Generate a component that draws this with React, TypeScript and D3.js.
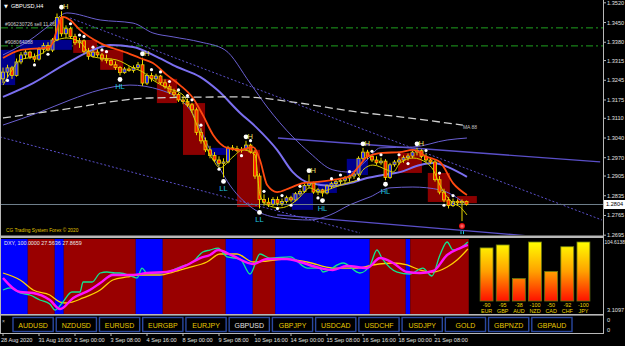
import React from "react";
import * as d3 from "d3";

// ---------- price data (H4 bars, index 0 = 28 Aug 2020 08:00) ----------
const opens = [
  1.3250, 1.3274, 1.3289, 1.3262, 1.3310, 1.3335, 1.3345, 1.3328, 1.3320, 1.3355,
  1.3368, 1.3352, 1.3388, 1.3468, 1.3410, 1.3428, 1.3400, 1.3378, 1.3385, 1.3348,
  1.3330, 1.3345, 1.3335, 1.3320, 1.3315, 1.3300, 1.3290, 1.3272, 1.3285, 1.3280,
  1.3290, 1.3300, 1.3235, 1.3262, 1.3250, 1.3260, 1.3236, 1.3222, 1.3203, 1.3195,
  1.3175, 1.3170, 1.3158, 1.3140, 1.3060, 1.3030, 1.2998, 1.2978, 1.2962, 1.2950,
  1.2955, 1.3005, 1.3002, 1.2996, 1.3000, 1.3015, 1.2990, 1.2905, 1.2822, 1.2812,
  1.2805, 1.2822, 1.2808, 1.2815, 1.2828, 1.2820, 1.2842, 1.2850, 1.2872, 1.2880,
  1.2848, 1.2856, 1.2845, 1.2870, 1.2878, 1.2885, 1.2890, 1.2898, 1.2905, 1.2912,
  1.2968, 1.2990, 1.2975, 1.2962, 1.2952, 1.2958, 1.2900, 1.2945, 1.2955, 1.2962,
  1.2970, 1.2976, 1.2990, 1.2995, 1.2975, 1.2962, 1.2955, 1.2892, 1.2848, 1.2820,
  1.2800, 1.2815, 1.2810, 1.2815,
];
const highs = [
  1.3290, 1.3300, 1.3296, 1.3322, 1.3345, 1.3355, 1.3350, 1.3340, 1.3362, 1.3378,
  1.3380, 1.3395, 1.3482, 1.3490, 1.3440, 1.3435, 1.3410, 1.3395, 1.3390, 1.3360,
  1.3352, 1.3355, 1.3342, 1.3336, 1.3322, 1.3312, 1.3296, 1.3292, 1.3295, 1.3298,
  1.3310, 1.3325, 1.3270, 1.3272, 1.3268, 1.3264, 1.3248, 1.3230, 1.3215, 1.3200,
  1.3188, 1.3180, 1.3165, 1.3148, 1.3075, 1.3042, 1.3012, 1.2990, 1.2975, 1.2968,
  1.3012, 1.3015, 1.3012, 1.3008, 1.3030, 1.3020, 1.2998, 1.2915, 1.2840, 1.2828,
  1.2830, 1.2832, 1.2825, 1.2835, 1.2835, 1.2848, 1.2858, 1.2878, 1.2910, 1.2885,
  1.2862, 1.2860, 1.2875, 1.2885, 1.2892, 1.2898, 1.2905, 1.2910, 1.2918, 1.2975,
  1.3005, 1.2998, 1.2982, 1.2975, 1.2970, 1.2965, 1.2952, 1.2962, 1.2970, 1.2978,
  1.2985, 1.2995, 1.3005, 1.3000, 1.2985, 1.2972, 1.2962, 1.2905, 1.2860, 1.2830,
  1.2825, 1.2822, 1.2822, 1.2818,
];
const lows = [
  1.3235, 1.3255, 1.3250, 1.3258, 1.3302, 1.3322, 1.3320, 1.3310, 1.3315, 1.3340,
  1.3348, 1.3345, 1.3384, 1.3400, 1.3395, 1.3392, 1.3370, 1.3360, 1.3340, 1.3318,
  1.3325, 1.3328, 1.3312, 1.3305, 1.3296, 1.3282, 1.3262, 1.3268, 1.3275, 1.3272,
  1.3282, 1.3225, 1.3228, 1.3240, 1.3240, 1.3228, 1.3215, 1.3196, 1.3185, 1.3168,
  1.3160, 1.3150, 1.3130, 1.3050, 1.3020, 1.2990, 1.2968, 1.2955, 1.2940, 1.2900,
  1.2950, 1.2995, 1.2990, 1.2988, 1.2995, 1.2985, 1.2895, 1.2790, 1.2800, 1.2795,
  1.2798, 1.2800, 1.2798, 1.2808, 1.2812, 1.2815, 1.2835, 1.2845, 1.2862, 1.2842,
  1.2838, 1.2832, 1.2840, 1.2860, 1.2868, 1.2875, 1.2880, 1.2885, 1.2895, 1.2905,
  1.2960, 1.2965, 1.2955, 1.2945, 1.2945, 1.2890, 1.2895, 1.2938, 1.2945, 1.2952,
  1.2960, 1.2968, 1.2978, 1.2968, 1.2955, 1.2948, 1.2885, 1.2840, 1.2812, 1.2790,
  1.2795, 1.2802, 1.2745, 1.2800,
];
const closes = [
  1.3274, 1.3289, 1.3262, 1.3310, 1.3335, 1.3345, 1.3328, 1.3320, 1.3355, 1.3368,
  1.3352, 1.3388, 1.3468, 1.3410, 1.3428, 1.3400, 1.3378, 1.3385, 1.3348, 1.3330,
  1.3345, 1.3335, 1.3320, 1.3315, 1.3300, 1.3290, 1.3272, 1.3285, 1.3280, 1.3290,
  1.3300, 1.3235, 1.3262, 1.3250, 1.3260, 1.3236, 1.3222, 1.3203, 1.3195, 1.3175,
  1.3170, 1.3158, 1.3140, 1.3060, 1.3030, 1.2998, 1.2978, 1.2962, 1.2950, 1.2955,
  1.3005, 1.3002, 1.2996, 1.3000, 1.3015, 1.2990, 1.2905, 1.2822, 1.2812, 1.2805,
  1.2822, 1.2808, 1.2815, 1.2828, 1.2820, 1.2842, 1.2850, 1.2872, 1.2880, 1.2848,
  1.2856, 1.2845, 1.2870, 1.2878, 1.2885, 1.2890, 1.2898, 1.2905, 1.2912, 1.2968,
  1.2990, 1.2975, 1.2962, 1.2952, 1.2958, 1.2900, 1.2945, 1.2955, 1.2962, 1.2970,
  1.2976, 1.2990, 1.2995, 1.2975, 1.2962, 1.2955, 1.2892, 1.2848, 1.2820, 1.2800,
  1.2815, 1.2810, 1.2815, 1.2804,
];

// ---------- overlays: [barIndex, price] ----------
const emaLine = [
  [0, 1.3324], [3.8, 1.3352], [10.4, 1.3363], [13.3, 1.347], [14.9, 1.3459], [17.1, 1.3424],
  [21.6, 1.3377], [27.6, 1.3342], [30.4, 1.3324], [33.3, 1.3306], [36.4, 1.3264], [39.3, 1.3228],
  [42.2, 1.3182], [44.4, 1.3122], [46.7, 1.3051], [49.8, 1.3005], [52.7, 1.2998], [55.6, 1.3008],
  [57.1, 1.2962], [58.7, 1.2873], [60.9, 1.2848], [63.8, 1.2863], [66.7, 1.288], [69.8, 1.2884],
  [73.3, 1.2891], [77.1, 1.2905], [79.3, 1.2944], [80.9, 1.2973], [84.4, 1.2987], [88.2, 1.299],
  [91.1, 1.2998], [94.2, 1.2973], [97.1, 1.2955], [100, 1.288], [103.1, 1.2838],
];
const fastLine = [
  [0, 1.3228], [1.6, 1.3271], [3.8, 1.3317], [6.7, 1.3328], [8.9, 1.3342], [12, 1.3388],
  [14.2, 1.3395], [17.1, 1.3381], [20, 1.3328], [25.3, 1.3317], [28.9, 1.3289], [31.1, 1.3274],
  [33.3, 1.3246], [36.4, 1.3218], [40, 1.3193], [42.2, 1.3122], [44.4, 1.3033], [46.7, 1.2962],
  [48.2, 1.2934], [51.1, 1.2973], [53.3, 1.2998], [56, 1.298], [57.1, 1.2838], [58.7, 1.2802],
  [61.6, 1.2792], [64.4, 1.2809], [66, 1.2831], [68.2, 1.2863], [70.4, 1.2848], [73.3, 1.2863],
  [76.4, 1.288], [78.7, 1.2891], [80, 1.2927], [82.2, 1.2944], [85.3, 1.2927], [86.7, 1.2919],
  [88.2, 1.2951], [91.1, 1.2969], [94.2, 1.2951], [95.6, 1.2927], [97.1, 1.2873], [100, 1.2809],
  [101.6, 1.2795], [103.1, 1.2767],
];
const bandUpper = [
  [0, 1.3335], [6, 1.3388], [10.4, 1.3441], [14.2, 1.3484], [21.6, 1.3459], [28.9, 1.3448],
  [33.3, 1.3413], [37.8, 1.3399], [43.8, 1.3381], [49.3, 1.3353], [54.9, 1.3235], [58.7, 1.315],
  [64.4, 1.3044], [68.2, 1.2987], [73.3, 1.2927], [77.1, 1.2919], [80.9, 1.2962], [83.8, 1.3005],
  [91.1, 1.3008], [98.7, 1.3033], [103.1, 1.304],
];
const bandMiddle = [
  [0, 1.3186], [6.7, 1.3235], [14.2, 1.3306], [20, 1.3353], [23.8, 1.337], [28.9, 1.3363],
  [34.2, 1.3328], [38.7, 1.3292], [43.8, 1.3257], [47.6, 1.3211], [52.7, 1.3129], [56.4, 1.3076],
  [60.9, 1.2998], [64.4, 1.2919], [68.2, 1.288], [73.3, 1.287], [77.1, 1.288], [80.9, 1.2898],
  [84.4, 1.2909], [88.2, 1.2919], [92.7, 1.2944], [95.6, 1.2951], [99.3, 1.2934], [103.1, 1.2902],
];
const bandLower = [
  [0, 1.3086], [8.2, 1.3132], [14.9, 1.3175], [21.6, 1.3211], [28.2, 1.3228], [34.9, 1.3211],
  [41.6, 1.314], [46, 1.2998], [50.4, 1.2873], [56, 1.2785], [61.6, 1.2756], [68.2, 1.2749],
  [72.7, 1.2767], [77.1, 1.2803], [81.6, 1.2831], [86, 1.2863], [91.1, 1.2866], [97.1, 1.2856],
  [103.1, 1.2803],
];
const slowMA = [
  [0, 1.3111], [12.7, 1.314], [32.7, 1.3182], [52.7, 1.3186], [66, 1.3164], [77.1, 1.3136],
  [88.2, 1.3115], [102.2, 1.3086],
];
// straight channel lines [i0, p0, i1, p1]
const dottedLines = [
  [14.9, 1.3466, 133.1, 1.2749],
  [-0.7, 1.3044, 79.3, 1.2703],
];
const solidLines = [
  [61.1, 1.304, 132.7, 1.2955],
  [60.9, 1.2767, 117.1, 1.2692],
];
const orderLevels = [1.3431, 1.3367];
const orderTexts = ["#906230726 sell 11.06", "#908064088"];

// zones [i0, i1, top, bottom]
const blueZones = [
  [-0.7, 2.7, 1.3353, 1.3228],
  [3.8, 15.3, 1.3388, 1.3353],
  [46, 50, 1.3005, 1.298],
  [64.2, 68.9, 1.2845, 1.2785],
  [70, 74.2, 1.2884, 1.2845],
  [76.4, 81.1, 1.2966, 1.2909],
];
const redZones = [
  [15.6, 20.9, 1.3388, 1.3342],
  [21.6, 26.7, 1.3353, 1.3282],
  [34.2, 38.7, 1.325, 1.3164],
  [40, 44.9, 1.3164, 1.298],
  [52, 57.1, 1.2998, 1.2795],
  [87.8, 93.1, 1.2987, 1.2916],
  [94.4, 99.3, 1.2916, 1.2813],
  [100.9, 105.3, 1.2834, 1.2809],
];
const dotsAbove = [15, 17, 18, 20, 22, 23, 33, 35, 37, 39, 41, 42, 44, 55, 58, 62, 66, 73, 75, 77, 82, 84, 88, 94, 97, 100];
const dotsBelow = [1, 7, 10, 48, 53, 61, 64, 70, 79, 90, 98];
const highMarks = [13, 31, 54, 68, 80, 92];
const lowMarks: [number, string][] = [[26, "HL"], [49, "LL"], [57, "LL"], [71, "HL"], [85, "HL"]];
const signalBar = 102;

const priceTicks = ["1.3520", "1.3450", "1.3380", "1.3315", "1.3245", "1.3175", "1.3110", "1.3040", "1.2970", "1.2905", "1.2835", "1.2765", "1.2695"];
const timeTickBars = [0, 8, 16, 24, 32, 40, 48, 56, 64, 72, 80, 88, 96];
const timeLabels = ["28 Aug 2020", "31 Aug 16:00", "2 Sep 00:00", "3 Sep 08:00", "4 Sep 16:00", "8 Sep 00:00", "9 Sep 08:00", "10 Sep 16:00", "14 Sep 00:00", "15 Sep 08:00", "16 Sep 16:00", "18 Sep 00:00", "21 Sep 08:00"];

// ---------- indicator window ----------
const indMin = 3.1097;
const indMax = 104.6138;
const indBands: [number, number, string][] = [
  [0, 5, "b"], [6, 11, "r"], [12, 13, "b"], [14, 29, "r"], [30, 35, "b"], [36, 49, "r"],
  [50, 55, "b"], [56, 60, "r"], [61, 81, "b"], [82, 89, "r"], [90, 90, "b"], [91, 103, "r"],
];
const greenSeries = [
  [0, 35.5], [1.6, 38.4], [3.8, 31.3], [6, 28.5], [8.2, 21.4], [10.4, 15.8], [11.6, 7.3], [13.3, 18.6],
  [15.3, 32.7], [17.1, 32.7], [17.8, 46.8], [19.8, 46.8], [21.6, 59.5], [23.1, 60.9], [24.9, 59.5],
  [26, 59.5], [28.9, 53.9], [29.8, 52.5], [30.9, 66.5], [32, 59.5], [34.2, 59.5], [36.4, 60.9],
  [39.3, 67.9], [42.2, 75], [44.4, 89.1], [46, 91.9], [47.8, 94.7], [49.8, 82.1], [52.7, 79.2],
  [54.9, 58.1], [57.1, 86.3], [59.3, 80.6], [63.8, 82.1], [67.6, 66.5], [70.4, 66.5], [71.1, 60.9],
  [75.6, 73.6], [79.3, 59.5], [81.6, 70.8], [83.1, 91.9], [84.2, 80.6], [87.6, 60.9], [90.4, 58.1],
  [93.3, 66.5], [95.3, 55.3], [97.1, 84.9], [98.7, 103.2], [100, 91.9], [101.6, 94.7], [103.3, 103.2],
];
const magentaSeries = [
  [0, 52.5], [3.8, 32.7], [6.7, 31.3], [10.4, 21.4], [12.7, 8.7], [15.6, 24.3], [19.3, 35.5],
  [21.6, 45.4], [24.4, 56.7], [28.9, 56.7], [32, 59.5], [36.4, 60.9], [40.9, 70.8], [43.8, 80.6],
  [46, 84.9], [47.8, 91.9], [51.1, 83.5], [55.6, 72.2], [58.7, 79.2], [63.1, 79.2], [66, 75],
  [70.4, 66.5], [73.3, 63.7], [76.4, 69.4], [80.9, 66.5], [83.8, 80.6], [86.7, 73.6], [89.8, 60.9],
  [92.7, 59.5], [95.6, 62.3], [98.7, 84.9], [101.6, 94.7], [103.3, 99],
];
const yellowSeries = [
  [0, 59.5], [3.8, 49.6], [6.7, 35.5], [10.4, 28.5], [12.7, 18.6], [14.2, 17.2], [17.8, 24.3],
  [21.6, 35.5], [24.4, 49.6], [27.6, 53.9], [30.4, 56.7], [34.9, 56.7], [37.8, 60.9], [40.9, 66.5],
  [45.3, 75], [48.2, 86.3], [52, 86.3], [55.6, 75], [58.7, 76.4], [63.1, 79.2], [67.6, 75],
  [73.3, 66.5], [78.7, 66.5], [82.2, 70.8], [86.7, 73.6], [89.8, 70.8], [92.7, 63.7], [95.6, 60.9],
  [98.7, 67.9], [100.9, 77.8], [103.3, 93.3],
];
const currencies = ["EUR", "GBP", "AUD", "NZD", "CAD", "CHF", "JPY"];
const strengths = [-90, -95, -38, -100, -50, -92, -100];

const buttons = ["AUDUSD", "NZDUSD", "EURUSD", "EURGBP", "EURJPY", "GBPUSD", "GBPJPY", "USDCAD", "USDCHF", "USDJPY", "GOLD", "GBPNZD", "GBPAUD"];
const activeButton = "GBPUSD";

export default function App() {
  const W = 625;
  const H = 346;
  const font = "'Liberation Sans', Arial, Helvetica, sans-serif";
  const x = d3.scaleLinear().domain([0, 103]).range([3, 466.5]);
  const y = d3.scaleLinear().domain([1.2695, 1.352]).range([235.2, 2.8]);
  const yi = d3.scaleLinear().domain([indMin, indMax]).range([313, 241]);
  const step = x(1) - x(0);
  const pLine = d3.line<number[]>().x((d) => x(d[0])).y((d) => y(d[1])).curve(d3.curveMonotoneX);
  const sLine = d3.line<number[]>().x((d) => x(d[0])).y((d) => y(d[1]));
  const iLine = d3.line<number[]>().x((d) => x(d[0])).y((d) => yi(d[1])).curve(d3.curveMonotoneX);
  const bx = d3.scaleBand<string>().domain(currencies).range([478.5, 591.5]).paddingInner(0.2).paddingOuter(0.1);
  const by = d3.scaleLinear().domain([0, 100]).range([301, 242]);
  const btn = d3.scaleBand<string>().domain(buttons).range([13, 572]).paddingInner(0.07);
  const bodyW = 3;
  const last = closes[closes.length - 1];

  return (
    <svg width={W} height={H} style={{ position: "absolute", left: 0, top: 0, display: "block", background: "#000" }}>
      <defs>
        <clipPath id="mainClip">
          <rect x={1} y={0} width={602} height={235} />
        </clipPath>
        <clipPath id="indClip">
          <rect x={1} y={239} width={602} height={75} />
        </clipPath>
        <linearGradient id="barGrad" gradientUnits="userSpaceOnUse" x1={0} y1={242} x2={0} y2={301}>
          <stop offset="0" stopColor="#ffff00" />
          <stop offset="0.5" stopColor="#ffa000" />
          <stop offset="1" stopColor="#ff1000" />
        </linearGradient>
        <radialGradient id="redDot">
          <stop offset="0" stopColor="#ff8080" />
          <stop offset="1" stopColor="#e00000" />
        </radialGradient>
      </defs>
      <rect x={0} y={0} width={W} height={H} fill="#000" />

      {/* ---------------- main window ---------------- */}
      <g clipPath="url(#mainClip)">
        {orderLevels.map((p, k) => (
          <line key={"ol" + k} x1={1} x2={603} y1={y(p)} y2={y(p)} stroke="#1fa01f" strokeWidth={1} strokeDasharray="7,3,2,3" />
        ))}
        {blueZones.map((z, k) => (
          <rect key={"bz" + k} x={x(z[0])} y={y(z[2])} width={x(z[1]) - x(z[0])} height={y(z[3]) - y(z[2])} fill="#00008b" />
        ))}
        {redZones.map((z, k) => (
          <rect key={"rz" + k} x={x(z[0])} y={y(z[2])} width={x(z[1]) - x(z[0])} height={y(z[3]) - y(z[2])} fill="#8b0000" />
        ))}
        {dottedLines.map((l, k) => (
          <path key={"dl" + k} d={sLine([[l[0], l[1]], [l[2], l[3]]]) || ""} stroke="#5a4fc8" strokeWidth={1} strokeDasharray="2,2" fill="none" />
        ))}
        {solidLines.map((l, k) => (
          <path key={"sl" + k} d={sLine([[l[0], l[1]], [l[2], l[3]]]) || ""} stroke="#5a4fc8" strokeWidth={1.3} fill="none" />
        ))}
        <path d={pLine(bandUpper) || ""} stroke="#6a5fd0" strokeWidth={1} fill="none" />
        <path d={pLine(bandLower) || ""} stroke="#6a5fd0" strokeWidth={1} fill="none" />
        <path d={pLine(bandMiddle) || ""} stroke="#7b6ff0" strokeWidth={2} fill="none" />
        <path d={pLine(slowMA) || ""} stroke="#d0d0d0" strokeWidth={1.3} strokeDasharray="8,4" fill="none" />
        <line x1={1} x2={603} y1={y(last)} y2={y(last)} stroke="#70808c" strokeWidth={1} />

        {closes.map((c, i) => {
          const o = opens[i];
          const up = c >= o;
          const top = y(Math.max(o, c));
          const bot = y(Math.min(o, c));
          const cx = x(i);
          return (
            <g key={"c" + i}>
              <line x1={cx} x2={cx} y1={y(highs[i])} y2={y(lows[i])} stroke="#e8d800" strokeWidth={1} />
              <rect x={cx - bodyW / 2} y={top} width={bodyW} height={Math.max(1, bot - top)} fill={up ? "#2020ff" : "#ff2000"} stroke="#e8d800" strokeWidth={0.8} />
            </g>
          );
        })}

        <path d={pLine(fastLine) || ""} stroke="#d8d000" strokeWidth={1} fill="none" />
        <path d={pLine(emaLine) || ""} stroke="#ff4a10" strokeWidth={1.8} fill="none" />

        {dotsAbove.map((i) => (
          <circle key={"da" + i} cx={x(i)} cy={y(highs[i]) - 3} r={1.6} fill="#ffffff" />
        ))}
        {dotsBelow.map((i) => (
          <circle key={"db" + i} cx={x(i)} cy={y(lows[i]) + 3} r={1.6} fill="#ffffff" />
        ))}
        {highMarks.map((i) => (
          <g key={"hm" + i}>
            <circle cx={x(i)} cy={y(highs[i]) - 4} r={2.4} fill="#ffffff" />
            <text x={x(i) + 1.5} y={y(highs[i]) - 2} fontFamily={font} fontSize={7.5} fill="#f0e060">H</text>
          </g>
        ))}
        {lowMarks.map(([i, t]) => (
          <g key={"lm" + i}>
            <circle cx={x(i)} cy={y(lows[i]) + 4} r={2.4} fill="#ffffff" />
            <text x={x(i)} y={y(lows[i]) + 14} textAnchor="middle" fontFamily={font} fontSize={7.5} fill="#20c8e0">{t}</text>
          </g>
        ))}
        <circle cx={x(signalBar)} cy={y(lows[signalBar]) + 5} r={3} fill="url(#redDot)" />
        <line x1={x(signalBar) - 1} x2={x(signalBar) - 1} y1={y(lows[signalBar]) + 10} y2={y(lows[signalBar]) + 13} stroke="#20c8e0" />
        <line x1={x(signalBar) + 1.5} x2={x(signalBar) + 1.5} y1={y(lows[signalBar]) + 10} y2={y(lows[signalBar]) + 13} stroke="#20c8e0" />

        <text x={x(102.2)} y={y(slowMA[slowMA.length - 1][1]) + 4} fontFamily={font} fontSize={5} fill="#c0c0c0">MA 88</text>
        {orderLevels.map((p, k) => (
          <text key={"ot" + k} x={5} y={y(p) - 2} fontFamily={font} fontSize={5} fill="#d0d0d0">{orderTexts[k]}</text>
        ))}
        <text x={4} y={8} fontFamily="'DejaVu Sans', sans-serif" fontSize={5} fill="#ffffff">▼</text>
        <text x={11} y={8} fontFamily={font} fontSize={5.6} fill="#ffffff">GBPUSD,H4</text>
        <text x={6} y={232} fontFamily={font} fontSize={4.8} fill="#e0c800">CG Trading System Forex © 2020</text>
      </g>

      {/* separators */}
      <rect x={0} y={235.5} width={603} height={2.5} fill="#b8b8b8" />
      <rect x={0} y={314} width={603} height={1.6} fill="#b8b8b8" />
      <line x1={0.5} x2={0.5} y1={0} y2={333} stroke="#b8b8b8" strokeWidth={1} />
      <line x1={603.5} x2={603.5} y1={0} y2={334} stroke="#b8b8b8" strokeWidth={1} />
      <line x1={0} x2={604} y1={333.5} y2={333.5} stroke="#b8b8b8" strokeWidth={1} />

      {/* ---------------- indicator window ---------------- */}
      <g clipPath="url(#indClip)">
        {indBands.map(([a, b, c], k) => (
          <rect key={"ib" + k} x={x(a) - step / 2} y={239} width={x(b) - x(a) + step} height={75} fill={c === "b" ? "#0000ff" : "#990000"} />
        ))}
        <path d={iLine(yellowSeries) || ""} stroke="#ffd000" strokeWidth={1.3} fill="none" />
        <path d={iLine(greenSeries) || ""} stroke="#10e890" strokeWidth={1.3} fill="none" />
        <path d={iLine(magentaSeries) || ""} stroke="#ff10ff" strokeWidth={2.4} fill="none" />
        <text x={4} y={245} fontFamily={font} fontSize={5.4} fill="#e8e8e8">DXY, 100.0000 27.5636 27.8659</text>

        {currencies.map((c, k) => {
          const v = Math.abs(strengths[k]);
          const bxp = bx(c) || 0;
          return (
            <g key={"cb" + c}>
              <rect x={bxp} y={by(v)} width={bx.bandwidth()} height={by(0) - by(v)} fill="url(#barGrad)" stroke="#6b7a10" strokeWidth={0.8} />
              <text x={bxp + bx.bandwidth() / 2} y={306.5} textAnchor="middle" fontFamily={font} fontSize={5.4} fill="#f0d800">{strengths[k]}</text>
              <text x={bxp + bx.bandwidth() / 2} y={313} textAnchor="middle" fontFamily={font} fontSize={5.4} fill="#f0d800">{c}</text>
            </g>
          );
        })}
      </g>

      {/* ---------------- button window ---------------- */}
      <text x={2} y={323} fontFamily={font} fontSize={5} fill="#c0c0c0">×</text>
      {buttons.map((b) => (
        <g key={"bt" + b}>
          <rect x={btn(b)} y={317.5} width={btn.bandwidth()} height={14} fill="#000" stroke="#2a48a0" strokeWidth={1.4} />
          <text x={(btn(b) || 0) + btn.bandwidth() / 2} y={327.5} textAnchor="middle" fontFamily={font} fontSize={7} fill={b === activeButton ? "#e0e0e0" : "#e8c800"}>{b}</text>
        </g>
      ))}

      {/* ---------------- right axis ---------------- */}
      {priceTicks.map((t) => (
        <g key={"pt" + t}>
          <line x1={603} x2={606} y1={y(+t)} y2={y(+t)} stroke="#b8b8b8" />
          <text x={607} y={y(+t) + 2} fontFamily={font} fontSize={5.6} fill="#e0e0e0">{t}</text>
        </g>
      ))}
      <rect x={604} y={y(last) - 4.5} width={21} height={9} fill="#ffffff" />
      <text x={606} y={y(last) + 2} fontFamily={font} fontSize={5.6} fill="#000">{last.toFixed(4)}</text>
      <text x={604.5} y={244} fontFamily={font} fontSize={4.9} fill="#e0e0e0">{indMax.toFixed(4)}</text>
      <text x={607} y={312} fontFamily={font} fontSize={5.6} fill="#e0e0e0">{indMin.toFixed(4)}</text>
      <text x={607} y={322} fontFamily={font} fontSize={5.6} fill="#e0e0e0">0</text>
      <text x={607} y={332} fontFamily={font} fontSize={5.6} fill="#e0e0e0">0</text>

      {/* ---------------- time axis ---------------- */}
      {timeTickBars.map((i, k) => (
        <g key={"tt" + i}>
          <line x1={x(i)} x2={x(i)} y1={333} y2={336} stroke="#b8b8b8" />
          <text x={k === 0 ? 1 : x(i) - 0.5} y={342} fontFamily={font} fontSize={5.6} fill="#e0e0e0">{timeLabels[k]}</text>
        </g>
      ))}
    </svg>
  );
}
